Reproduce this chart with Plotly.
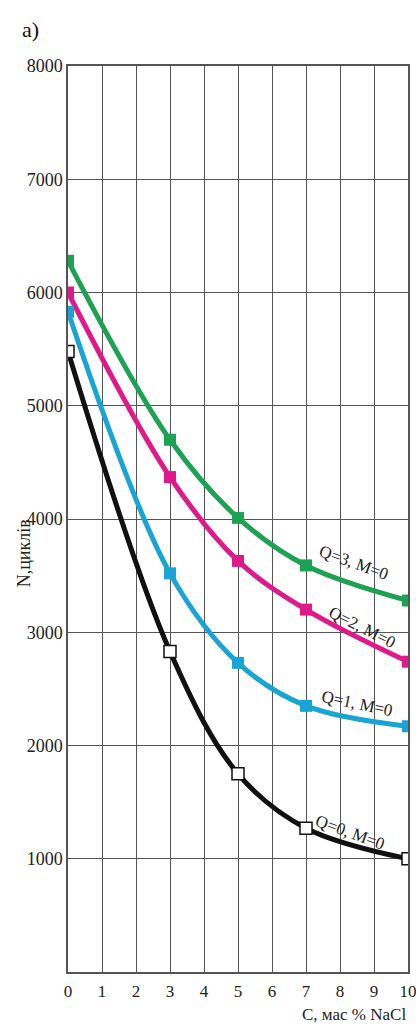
import plotly.graph_objects as go

x_vals = [0, 3, 5, 7, 10]
q3 = [6280, 4700, 4010, 3590, 3280]
q2 = [6000, 4370, 3630, 3200, 2740]
q1 = [5830, 3520, 2730, 2350, 2170]
q0 = [5480, 2830, 1750, 1270, 1000]

series = [
    ("Q=3, M=0", q3, "#1da152", "#1da152"),
    ("Q=2, M=0", q2, "#e0198a", "#e0198a"),
    ("Q=1, M=0", q1, "#19a4d6", "#19a4d6"),
    ("Q=0, M=0", q0, "#111111", "white"),
]

label_pos = {
    "Q=3, M=0": (8.4, 3620, 20),
    "Q=2, M=0": (8.66, 3040, 27),
    "Q=1, M=0": (8.5, 2370, 12),
    "Q=0, M=0": (8.3, 1230, 20),
}

x_ticks = list(range(0, 11))
y_ticks = [1000, 2000, 3000, 4000, 5000, 6000, 7000, 8000]

FONT = "Liberation Serif"

fig = go.Figure()
for name, vals, col, fill in series:
    fig.add_trace(go.Scatter(
        x=x_vals, y=vals, mode="lines+markers", name=name,
        line=dict(color=col, width=5, shape="spline", smoothing=1.0),
        marker=dict(symbol="square", size=12, color=fill,
                    line=dict(color=col, width=1.5 if fill == "white" else 0)),
        showlegend=False,
    ))

annotations = []
for name, vals, col, fill in series:
    lx, ly, ang = label_pos[name]
    annotations.append(dict(x=lx, y=ly, xref="x", yref="y", text=name,
                            showarrow=False, textangle=ang,
                            font=dict(family=FONT, size=17, color="#222")))

annotations += [
    dict(x=-0.162, y=0.462, xref="paper", yref="paper", text="N,циклів",
         showarrow=False, textangle=-90, font=dict(family=FONT, size=18, color="#222")),
    dict(x=1.0, y=-0.047, xref="paper", yref="paper", text="C, мас % NaCl",
         showarrow=False, xanchor="right", yanchor="middle",
         font=dict(family=FONT, size=17, color="#222")),
    dict(x=-0.141, y=1.04, xref="paper", yref="paper", text="a)",
         showarrow=False, xanchor="left", yanchor="middle",
         font=dict(family=FONT, size=22, color="#111")),
]

fig.update_layout(
    width=416, height=1024, autosize=False,
    margin=dict(l=68, r=8, t=66, b=52, autoexpand=False),
    plot_bgcolor="white", paper_bgcolor="white",
    showlegend=False,
    annotations=annotations,
    xaxis=dict(range=[0, 10], tickvals=x_ticks, ticktext=[str(v) for v in x_ticks],
               showgrid=True, gridcolor="#555", gridwidth=1.3,
               showline=True, linecolor="#555", linewidth=1.5, mirror=True,
               zeroline=False, ticks="outside", ticklen=3, tickcolor="rgba(0,0,0,0)",
               automargin=False, ticklabeloverflow="allow",
               tickfont=dict(family=FONT, size=17, color="#222")),
    yaxis=dict(range=[0, 8000], tickvals=y_ticks, ticktext=[str(v) for v in y_ticks],
               showgrid=True, gridcolor="#555", gridwidth=1.3,
               showline=True, linecolor="#555", linewidth=1.5, mirror=True,
               zeroline=False, ticks="", automargin=False, ticklabeloverflow="allow",
               tickfont=dict(family=FONT, size=18, color="#222")),
)

fig.write_html(
    "out.html",
    config={"displayModeBar": False, "responsive": False},
    post_script="document.body.style.margin='0';document.documentElement.style.overflow='hidden';",
)
